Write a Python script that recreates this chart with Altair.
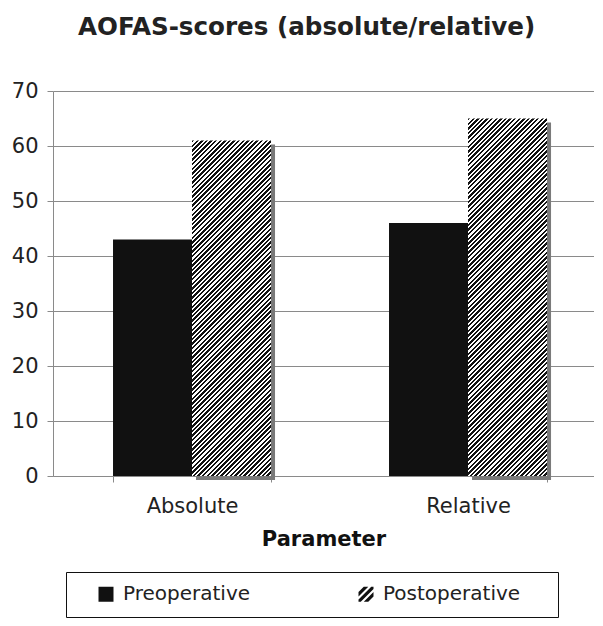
import altair as alt
import pandas as pd

# ---- data ----
parameters = ["Absolute", "Relative"]
periods = ["Preoperative", "Postoperative"]
pre_values = [43, 46]
post_values = [61, 65]
y_ticks = [0, 10, 20, 30, 40, 50, 60, 70]
chart_title = "AOFAS-scores (absolute/relative)"
x_title = "Parameter"

rows = []
for i, p in enumerate(parameters):
    rows.append({"Parameter": p, "Period": periods[0], "Value": pre_values[i]})
    rows.append({"Parameter": p, "Period": periods[1], "Value": post_values[i]})
df = pd.DataFrame(rows)

# ---- style ----
FONT = "DejaVu Sans"
PLOT_W, PLOT_H = 541, 385
Y_MAX = 70
PAD_INNER, PAD_OUTER, ALIGN = 0.4275, 0.1938, 0.561
GRAY = "#8a8a8a"
BLACK = "#111111"
SHADOW = 4

step = PLOT_W / (len(parameters) - PAD_INNER + 2 * PAD_OUTER)
group_w = step * (1 - PAD_INNER)
bar_w = group_w / len(periods)


def hatch(value, period=4.6, frac=0.5):
    """diagonal '/' stripes as a linear gradient in bounding-box units"""
    W = bar_w
    H = value / Y_MAX * PLOT_H
    a = (W + H) / (W * W + H * H)
    n = (W + H) / period
    stops = []
    k = 0
    while k < n:
        t0 = round(k / n, 5)
        t1 = round(min((k + frac) / n, 1), 5)
        t2 = round(min((k + 1) / n, 1), 5)
        stops += [
            {"offset": t0, "color": BLACK},
            {"offset": t1, "color": BLACK},
            {"offset": t1, "color": "#ffffff"},
            {"offset": t2, "color": "#ffffff"},
        ]
        k += 1
    return {"gradient": "linear", "x1": 0, "y1": 0,
            "x2": round(a * W, 6), "y2": round(a * H, 6), "stops": stops}


HATCH_PATH = ("M-1,-0.3L-0.3,-1L0.3,-1L-1,0.3Z "
              "M-1,0.7L0.7,-1L1,-1L1,-0.7L-0.7,1L-1,1Z "
              "M-0.3,1L1,-0.3L1,0.3L0.3,1Z")

x_enc = alt.X(
    "Parameter:N", sort=parameters,
    scale=alt.Scale(paddingInner=PAD_INNER, paddingOuter=PAD_OUTER, align=ALIGN),
    axis=alt.Axis(title=x_title, labelAngle=0, labelFontSize=21, labelPadding=13,
                  tickSize=6, tickBand="extent", grid=False,
                  titleFontSize=21, titleFontWeight="bold", titlePadding=12),
)


def xoff(shift=0):
    return alt.XOffset("Period:N", sort=periods,
                       scale=alt.Scale(type="band", domain=periods,
                                       range=[shift, shift + group_w],
                                       paddingInner=0, paddingOuter=0))


y_scale = alt.Scale(domain=[0, Y_MAX], nice=False)
y_axis = alt.Axis(values=y_ticks, title=None, labelFontSize=21, labelPadding=9,
                  tickSize=6, grid=True)

# trailing non-breaking spaces closed by a zero-width space so they are measured
PAD_TAIL = "\u00a0" * 4 + "\u200b"
legend = alt.Legend(
    title=" ", titleOrient="left", titleFontSize=1, titlePadding=18,
    orient="none", legendX=13, legendY=481,
    direction="horizontal", columns=2, columnPadding=104,
    symbolSize=225, labelFontSize=20, labelFont=FONT, labelColor="#222222",
    labelOffset=7, padding=12, strokeColor=BLACK, symbolOpacity=1, labelLimit=400,
    labelExpr=f"datum.label == 'Postoperative' ? datum.label + '{PAD_TAIL}' : datum.label",
)

base = alt.Chart(df)

legend_points = base.transform_calculate(mid="datum.Value / 2").mark_point(
    filled=True, color=BLACK, opacity=1, size=20
).encode(
    x=x_enc, xOffset=xoff(),
    y=alt.Y("mid:Q", scale=y_scale, axis=y_axis),
    shape=alt.Shape("Period:N", sort=periods,
                    scale=alt.Scale(domain=periods, range=["square", HATCH_PATH]),
                    legend=legend),
)

shadow = base.transform_filter(alt.datum.Period == periods[1]).mark_bar(
    fill="#7a7a7a", yOffset=SHADOW, y2Offset=-SHADOW
).encode(
    x=x_enc, xOffset=xoff(SHADOW),
    y=alt.Y("Value:Q", scale=y_scale, axis=y_axis),
)

bars = base.mark_bar().encode(
    x=x_enc, xOffset=xoff(),
    y=alt.Y("Value:Q", scale=y_scale, axis=y_axis),
    fill={
        "condition": [
            {"test": f"datum.Period == '{periods[0]}'", "value": BLACK},
            {"test": f"datum.Parameter == '{parameters[0]}'", "value": hatch(post_values[0])},
        ],
        "value": hatch(post_values[1]),
    },
)

chart = alt.layer(legend_points, shadow, bars).resolve_scale(
    xOffset="independent"
).properties(
    width=PLOT_W, height=PLOT_H,
    padding={"left": 3, "right": 0, "top": 7, "bottom": 0},
    title=alt.Title(chart_title, fontSize=24.6, fontWeight="bold", font=FONT,
                    color="#222222", anchor="middle", frame="bounds",
                    baseline="top", offset=39, dx=4),
).configure(font=FONT).configure_view(stroke=None).configure_axis(
    labelFont=FONT, titleFont=FONT, labelColor="#222222", titleColor="#111111",
    gridColor=GRAY, domainColor=GRAY, tickColor=GRAY, gridWidth=1, domainWidth=1,
)

chart.save("out.html", embed_options={"renderer": "svg", "actions": False})
